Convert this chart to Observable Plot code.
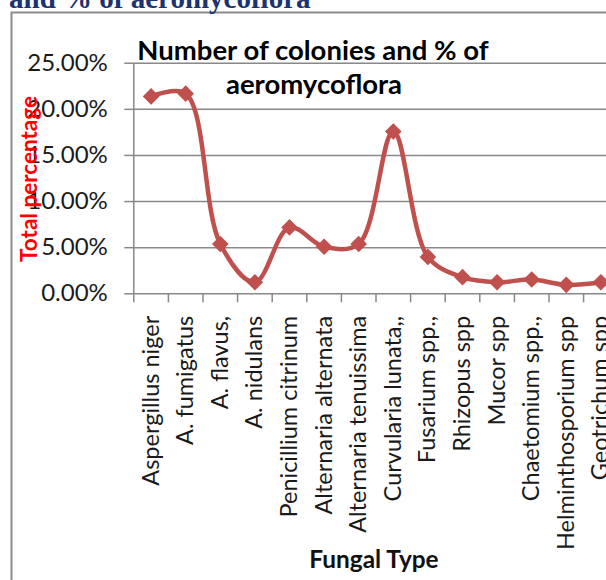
<!DOCTYPE html>
<html>
<head>
<meta charset="utf-8">
<script src="https://cdn.jsdelivr.net/npm/d3@7"></script>
<script src="https://cdn.jsdelivr.net/npm/@observablehq/plot@0.6"></script>
<style>
  html, body { margin: 0; padding: 0; background: #fff; }
  #wrap { position: relative; width: 606px; height: 580px; overflow: hidden; background: #fff; }
  #chart { position: absolute; left: 0; top: 0; width: 620px; height: 580px; }
  #chart svg { max-width: none !important; width: 620px !important; height: 580px !important; }
  #overlay { position: absolute; left: 0; top: 0; pointer-events: none; }
</style>
</head>
<body>
<div id="wrap">
  <svg id="frame" width="606" height="580" style="position:absolute;left:0;top:0">
    <rect x="11.5" y="12.5" width="620" height="600" fill="#fff" stroke="#8c8c8c" stroke-width="2"></rect>
  </svg>
  <div id="chart"></div>
  <svg id="overlay" width="606" height="580">
    <text x="9" y="8" font-family="Liberation Serif" font-weight="bold" font-size="29" fill="#1C3370">and % of aeromycoflora</text>
    <text x="313" y="60" text-anchor="middle" font-family="Lato" font-weight="bold" font-size="27.5" fill="#000">Number of colonies and % of</text>
    <text x="314" y="94" text-anchor="middle" font-family="Lato" font-weight="bold" font-size="27.5" fill="#000">aeromycoflora</text>
    <text transform="translate(36.5,179) rotate(-90)" text-anchor="middle" font-family="Lato" font-weight="bold" font-size="22.5" fill="#FF0000">Total percentage</text>
    <text x="374" y="568" text-anchor="middle" font-family="Lato" font-weight="bold" font-size="24.4" fill="#111">Fungal Type</text>
  </svg>
</div>
<script>
// Data
const categories = [
  "Aspergillus niger", "A. fumigatus", "A. flavus,", "A. nidulans",
  "Penicillium citrinum", "Alternaria alternata", "Alternaria tenuissima",
  "Curvularia lunata,,", "Fusarium spp.,", "Rhizopus spp", "Mucor spp",
  "Chaetomium spp.,", "Helminthosporium spp", "Geotrichum spp"
];
const percentages = [21.4, 21.7, 5.4, 1.25, 7.2, 5.1, 5.4, 17.6, 4.0, 1.8, 1.25, 1.55, 0.97, 1.25];
const yTicks = [0, 0.05, 0.10, 0.15, 0.20, 0.25];

const data = categories.map((c, i) => ({i, name: c, value: percentages[i] / 100}));
const idx = categories.map((c, i) => i);
const boundaries = d3.range(categories.length + 1).map(k => k - 0.5);

const gray = "#888888";
const red = "#C0504D";

const chart = Plot.plot({
  width: 620,
  height: 580,
  marginLeft: 133.3,
  marginRight: 2.3,
  marginTop: 62.7,
  marginBottom: 286.7,
  style: {fontFamily: "Lato", fontSize: "24px", color: "#1a1a1a", background: "transparent", maxWidth: "none"},
  x: {type: "linear", domain: [-0.5, categories.length - 0.5]},
  y: {domain: [0, 0.25]},
  marks: [
    Plot.ruleY(yTicks, {stroke: gray, strokeWidth: 1.5}),
    Plot.ruleX([-0.5], {y1: 0, y2: 0.25, stroke: gray, strokeWidth: 1.5}),
    Plot.axisY(yTicks, {tickSize: 9, tickPadding: 17, tickFormat: d3.format(".2%"), stroke: gray, strokeWidth: 1.5, fontSize: 24, label: null}),
    Plot.axisX(boundaries, {tickSize: 9, tickFormat: () => "", stroke: gray, strokeWidth: 1.5, label: null}),
    Plot.axisX(idx, {tickSize: 0, tickPadding: 22, tickRotate: -90, tickFormat: i => categories[i], fontSize: 23.5, label: null}),
    Plot.line(data, {x: "i", y: "value", stroke: red, strokeWidth: 4.5, curve: "catmull-rom"}),
    Plot.dot(data, {x: "i", y: "value", symbol: "diamond2", r: 7.5, fill: red, stroke: "none"})
  ]
});
document.getElementById("chart").appendChild(chart);
</script>
</body>
</html>
